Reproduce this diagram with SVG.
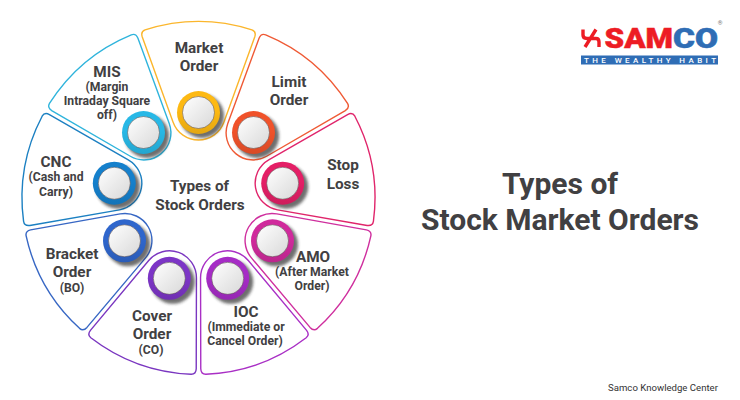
<svg xmlns="http://www.w3.org/2000/svg" width="740" height="400" viewBox="0 0 740 400">
<style>
text{font-family:Roboto,"Liberation Sans",sans-serif;font-weight:700;fill:#414042;text-anchor:middle}
.h{font-size:15.3px}.s{font-size:12.2px}
.title{font-size:30px}
.p{fill:#fff;stroke-width:1.4}
</style>
<defs>
<!-- one wedge, pointing up, pivoted on the wheel centre -->
<path id="wedge" d="M53.4-168.2Q58-166.6 56.3-161.3L25.4-75.8A27 27 0 0 1-25.4-75.8L-56.3-161.3Q-58-166.6-53.4-168.2A176.8 176.8 0 0 1 53.4-168.2Z"/>
<filter id="soft" x="-30%" y="-30%" width="160%" height="160%"><feGaussianBlur stdDeviation="1.8"/></filter>
<linearGradient id="disc" x1="0" y1="0" x2="1" y2="1"><stop offset="0" stop-color="#fff"/><stop offset="1" stop-color="#d8d8d8"/></linearGradient>
<linearGradient id="shade" x1="0" y1="0" x2="0" y2="1"><stop offset=".45" stop-color="#000" stop-opacity="0"/><stop offset="1" stop-color="#000" stop-opacity=".1"/></linearGradient>
<g id="knob">
<circle cx="3.5" cy="3.5" r="22" fill="#222" opacity=".65" filter="url(#soft)"/>
</g>
<g id="cap">
<circle r="21.5" fill="url(#shade)"/>
<circle r="16" fill="url(#disc)" stroke="#4a3a3a" stroke-opacity=".6" stroke-width=".8"/>
</g>
</defs>
<rect width="740" height="400" fill="#fff"/>
<g id="connectors"/>
<g transform="translate(198.5 198)">
<g id="market"><use href="#wedge" class="p" stroke="#fbb62c"/><g transform="translate(0 -85.5)"><use href="#knob"/><circle r="21.5" fill="#fdb913"/><use href="#cap"/></g></g>
<g id="limit"><use href="#wedge" class="p" stroke="#ef5a35" transform="rotate(40)"/><g transform="translate(55 -65.5)"><use href="#knob"/><circle r="21.5" fill="#f0522a"/><use href="#cap"/></g></g>
<g id="stop"><use href="#wedge" class="p" stroke="#e0256b" transform="rotate(80)"/><g transform="translate(84.2 -14.8)"><use href="#knob"/><circle r="21.5" fill="#e41f66"/><use href="#cap"/></g></g>
<g id="amo"><use href="#wedge" class="p" stroke="#cf2f9e" transform="rotate(120)"/><g transform="translate(74 42.8)"><use href="#knob"/><circle r="21.5" fill="#d02a9c"/><use href="#cap"/></g></g>
<g id="ioc"><use href="#wedge" class="p" stroke="#a92fc5" transform="rotate(160)"/><g transform="translate(29.2 80.3)"><use href="#knob"/><circle r="21.5" fill="#a62cc6"/><use href="#cap"/></g></g>
<g id="cover"><use href="#wedge" class="p" stroke="#7a36c0" transform="rotate(200)"/><g transform="translate(-29.2 80.3)"><use href="#knob"/><circle r="21.5" fill="#7c35c6"/><use href="#cap"/></g></g>
<g id="bracket"><use href="#wedge" class="p" stroke="#3767c4" transform="rotate(240)"/><g transform="translate(-74 42.8)"><use href="#knob"/><circle r="21.5" fill="#2f66cc"/><use href="#cap"/></g></g>
<g id="cnc"><use href="#wedge" class="p" stroke="#1c80c2" transform="rotate(280)"/><g transform="translate(-84.2 -14.8)"><use href="#knob"/><circle r="21.5" fill="#1580cc"/><use href="#cap"/></g></g>
<g id="mis"><use href="#wedge" class="p" stroke="#2fb4dc" transform="rotate(320)"/><g transform="translate(-55 -65.5)"><use href="#knob"/><circle r="21.5" fill="#28b8e6"/><use href="#cap"/></g></g>
</g>
<g id="labels">
<text class="h" x="199" y="53">Market</text><text class="h" x="199" y="71">Order</text>
<text class="h" x="289" y="87">Limit</text><text class="h" x="289" y="105">Order</text>
<text class="h" x="343" y="170">Stop</text><text class="h" x="343" y="189">Loss</text>
<text class="h" x="313" y="262">AMO</text><text class="s" x="312" y="276">(After Market</text><text class="s" x="312" y="290">Order)</text>
<text class="h" x="246" y="317">IOC</text><text class="s" x="246" y="331">(Immediate or</text><text class="s" x="245" y="345">Cancel Order)</text>
<text class="h" x="152" y="321">Cover</text><text class="h" x="152" y="339">Order</text><text class="s" x="151" y="354">(CO)</text>
<text class="h" x="72" y="259">Bracket</text><text class="h" x="72" y="277">Order</text><text class="s" x="72" y="292">(BO)</text>
<text class="h" x="56" y="167">CNC</text><text class="s" x="56" y="181">(Cash and</text><text class="s" x="56" y="196">Carry)</text>
<text class="h" x="107" y="77">MIS</text><text class="s" x="107" y="91">(Margin</text><text class="s" x="107" y="105">Intraday Square</text><text class="s" x="107" y="119">off)</text>
<text class="h" x="199.5" y="191">Types of</text><text class="h" x="200" y="210">Stock Orders</text>
</g>
<g id="heading">
<text class="title" x="560" y="194">Types of</text>
<text class="title" x="560" y="230">Stock Market Orders</text>
</g>
<g id="logo">
<!-- pinwheel mark: one hooked bar across, one slanted bar down -->
<path fill="none" stroke="#ed1c24" stroke-width="3.4" d="M583 29.5V35Q583 38.5 587 38.5H596Q599 38.5 599 42V47M596 29.5L585 47"/>
<text x="604.5" y="47.5" style="text-anchor:start;font-weight:900;font-size:28px;fill:#ed1c24;stroke:#ed1c24;stroke-width:.5" textLength="68.5" lengthAdjust="spacingAndGlyphs">SAM</text>
<text x="673" y="47.5" style="text-anchor:start;font-weight:900;font-size:28px;fill:#2f6db5;stroke:#2f6db5;stroke-width:.5" textLength="45" lengthAdjust="spacingAndGlyphs">CO</text>
<rect x="581" y="55.5" width="137" height="9" fill="#2f6db5"/>
<text x="584" y="63" style="text-anchor:start;font-weight:500;font-size:8px;fill:#fff" textLength="132">THE WEALTHY HABIT</text>
<text x="720" y="25" style="font-weight:400;font-size:6px;fill:#777">®</text>
</g>
<text x="663" y="391" style="font-weight:400;font-size:9.6px;fill:#333">Samco Knowledge Center</text>
</svg>
